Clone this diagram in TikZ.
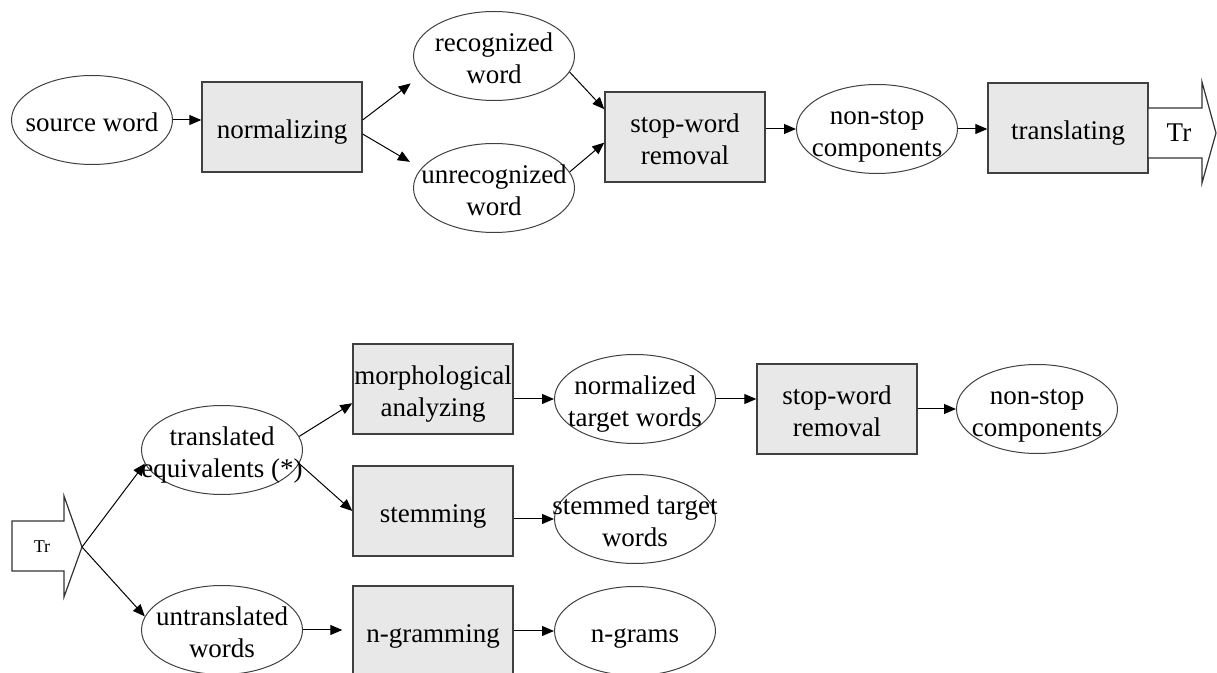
\documentclass[tikz,border=0pt]{standalone}
\usepackage{fontspec}
\setmainfont{Liberation Serif}
\usepackage{tikz}
\usetikzlibrary{shapes,arrows.meta,positioning}
\usepackage{xcolor}

\newcommand{\ctext}[1]{\makebox[0pt]{\begin{tabular}{@{}c@{}}#1\end{tabular}}}

\begin{document}
\begin{tikzpicture}[x=0.5pt, y=-0.5pt,
    procbox/.style={rectangle, draw=black!75, fill=black!9, line width=0.7pt, minimum width=80pt, minimum height=45pt, inner sep=0pt, text height=12pt, text depth=0pt, font=\fontsize{13.5}{16}\selectfont},
    oval/.style={ellipse, draw=black!75, fill=white, line width=0.5pt, minimum width=80.5pt, minimum height=44.5pt, inner sep=0pt, text height=12pt, text depth=0pt, font=\fontsize{13.5}{16}\selectfont},
    fat/.style={draw=black!80, fill=white, line width=0.6pt},
    arrow/.style={-{Triangle[length=6pt,width=5pt]}, line width=0.5pt}
]
\useasboundingbox (0,0) rectangle (1217,673);

% source side
\node[oval] (src) at (92,120) {\ctext{source word}};
\node[procbox] (norm) at (282,127) {\ctext{normalizing}};
\node[oval] (recog) at (494,56) {\ctext{recognized\\word}};
\node[oval] (unrecog) at (494,188) {\ctext{unrecognized\\word}};
\node[procbox] (stopw) at (685,137) {\ctext{stop-word\\removal}};
\node[oval] (nonstop) at (877,129) {\ctext{non-stop\\components}};
\node[procbox] (transl) at (1068,128) {\ctext{translating}};

\draw[fat] (1148,108) -- (1202,108) -- (1202,82) -- (1216,133) -- (1202,183) -- (1202,158) -- (1148,158) -- cycle;
\node[font=\fontsize{13.5}{16}\selectfont] (trout) at (1179,133) {Tr};

\draw[arrow] (src) -- (src -| norm.west);
\draw[arrow, shorten >=6.5pt] (norm.5) -- (recog.195);
\draw[arrow, shorten >=6.5pt] (norm.-5) -- (unrecog.165);
\draw[arrow] (recog.-12) -- (stopw.161);
\draw[arrow] (unrecog.12) -- (stopw.184);
\draw[arrow] (stopw.east |- nonstop) -- (nonstop);
\draw[arrow] (nonstop) -- (nonstop -| transl.west);

% target side
\draw[fat] (12,521) -- (64,521) -- (64,496) -- (82,547) -- (64,597) -- (64,571) -- (12,571) -- cycle;
\node[font=\fontsize{9}{11}\selectfont] (trin) at (42,547) {Tr};
\coordinate (trtip) at (82,547);

\node[oval] (equiv) at (222,450) {\ctext{translated\\equivalents (*)}};
\node[oval] (untr) at (222,630) {\ctext{untranslated\\words}};
\node[procbox] (morph) at (433,389) {\ctext{morphological\\analyzing}};
\node[procbox] (stem) at (433,511) {\ctext{stemming}};
\node[procbox] (ngram) at (433,631) {\ctext{n-gramming}};
\node[oval] (normtw) at (635,399) {\ctext{normalized\\target words}};
\node[oval] (stemtw) at (635,519) {\ctext{stemmed target\\words}};
\node[oval] (ngrams) at (635,631) {\ctext{n-grams}};
\node[procbox] (stopw2) at (837,409) {\ctext{stop-word\\removal}};
\node[oval] (nonstop2) at (1037,409) {\ctext{non-stop\\components}};

\draw[arrow] (trtip) -- (equiv.190);
\draw[arrow] (trtip) -- (untr.170);
\draw[arrow] (equiv.10) -- (morph.190);
\draw[arrow] (equiv.-10) -- (stem.west);
\draw[arrow, shorten >=5pt] (untr) -- (untr -| ngram.west);
\draw[arrow] (morph.east |- normtw) -- (normtw);
\draw[arrow] (stem.east |- stemtw) -- (stemtw);
\draw[arrow] (ngram) -- (ngrams);
\draw[arrow] (normtw) -- (normtw -| stopw2.west);
\draw[arrow] (stopw2) -- (nonstop2);
\end{tikzpicture}
\end{document}
